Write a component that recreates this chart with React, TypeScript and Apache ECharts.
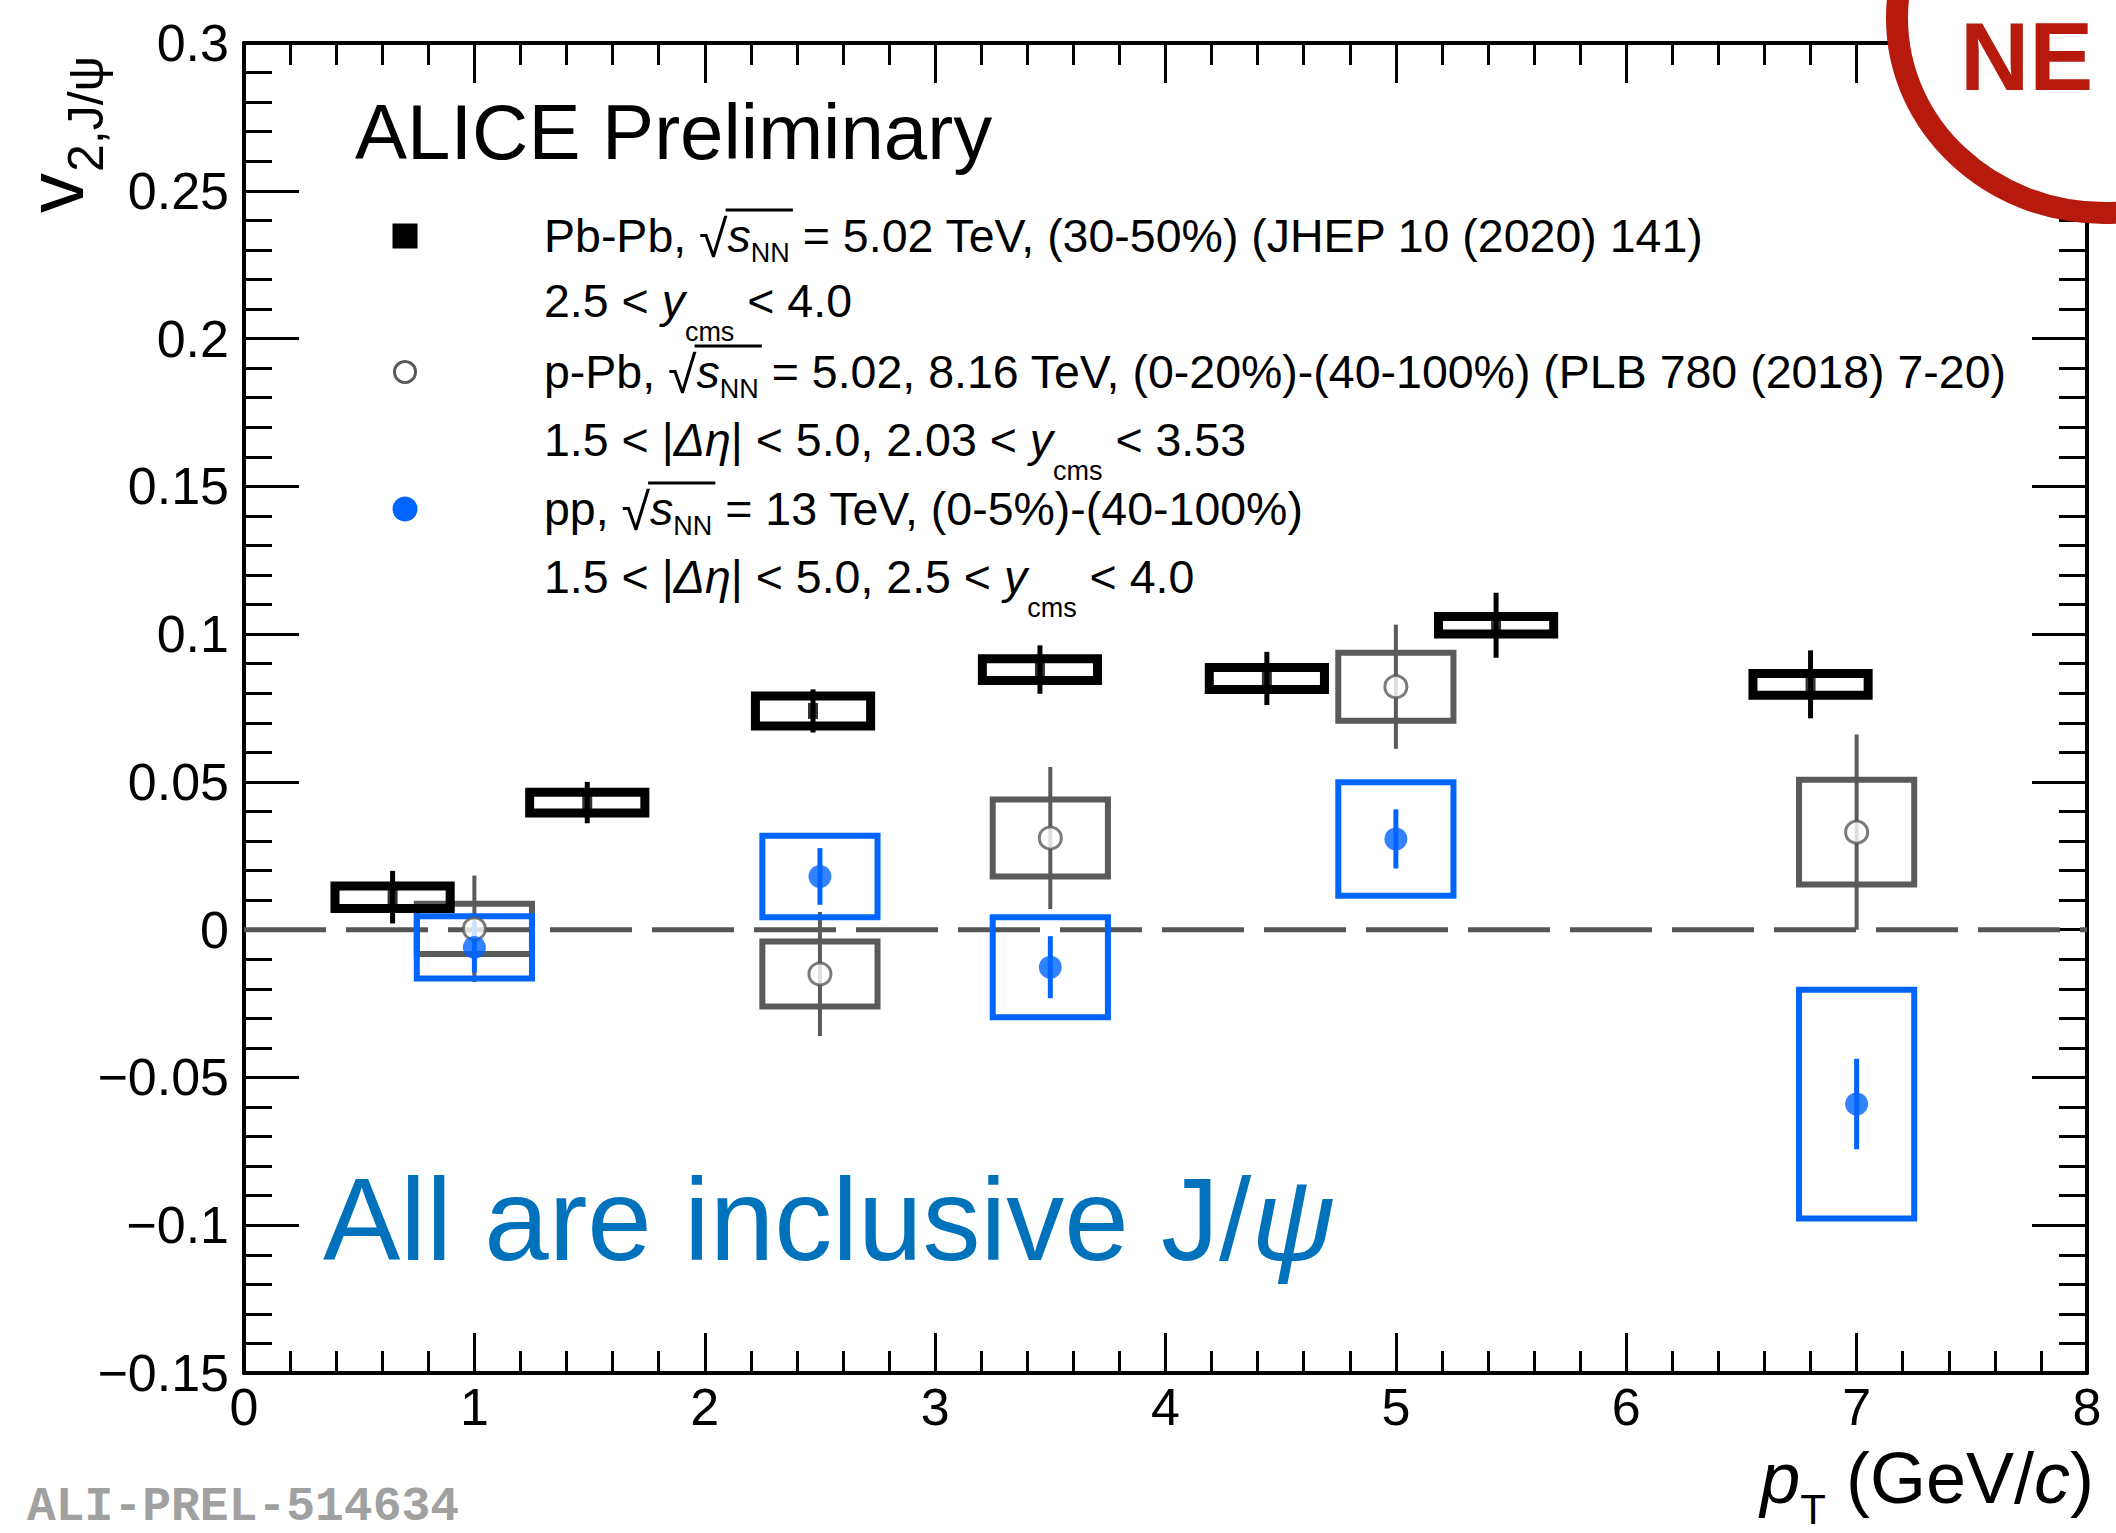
import React, { useEffect, useRef } from "react";
import * as echarts from "echarts";

const W = 2116;
const H = 1533;
const FONT = "Liberation Sans";

// ---------------- data ----------------
// Pb-Pb (30-50%), 5.02 TeV
const pbpbPt = [0.645, 1.49, 2.47, 3.455, 4.44, 5.435, 6.8];
const pbpbV = [0.011, 0.043, 0.074, 0.088, 0.085, 0.103, 0.083];
const pbpbStat = [0.0089, 0.007, 0.0073, 0.0082, 0.009, 0.011, 0.0115];
const pbpbSys = [0.0038, 0.0035, 0.0051, 0.0037, 0.0037, 0.003, 0.0037];

// p-Pb, 5.02 & 8.16 TeV
const ppbPt = [1.0, 2.5, 3.5, 5.0, 7.0];
const ppbV = [0.0003, -0.015, 0.031, 0.0822, 0.033];
const ppbStat = [0.018, 0.021, 0.024, 0.021, 0.033];
const ppbSys = [0.0085, 0.011, 0.013, 0.0115, 0.0177];

// pp, 13 TeV
const ppPt = [1.0, 2.5, 3.5, 5.0, 7.0];
const ppV = [-0.006, 0.018, -0.0127, 0.0307, -0.059];
const ppStat = [0.0085, 0.0096, 0.0105, 0.01, 0.0153];
const ppSys = [0.0105, 0.0138, 0.0169, 0.0192, 0.0387];

const boxHalfWidth = 0.25;

const xMin = 0, xMax = 8, xStep = 1;
const yMin = -0.15, yMax = 0.3, yStep = 0.05;

const zeroLine = [[0, 0], [8, 0]];

// ---------------- colours ----------------
const BLACK = "#000000";
const GRAY = "#5a5a5a";
const BLUE = "#0064ff";
const ANNOT = "#0072bc";
const RED = "#b51a0c";

// legend lines (style, text)
type Seg = [string, string];
const legendLines: Seg[][] = [
  [["n", "Pb-Pb, "], ["r", "\u221a"], ["i", "s"], ["nn", "NN"], ["n", "\u00a0= 5.02 TeV, (30-50%) (JHEP 10 (2020) 141)"]],
  [["n", "2.5 < "], ["i", "y"], ["cms", "cms"], ["n", "\u00a0< 4.0"]],
  [["n", "p-Pb, "], ["r", "\u221a"], ["i", "s"], ["nn", "NN"], ["n", "\u00a0= 5.02, 8.16 TeV, (0-20%)-(40-100%) (PLB 780 (2018) 7-20)"]],
  [["n", "1.5 < |"], ["i", "\u0394\u03b7"], ["n", "| < 5.0, 2.03 < "], ["i", "y"], ["cms", "cms"], ["n", "\u00a0< 3.53"]],
  [["n", "pp, "], ["r", "\u221a"], ["i", "s"], ["nn", "NN"], ["n", "\u00a0= 13 TeV, (0-5%)-(40-100%)"]],
  [["n", "1.5 < |"], ["i", "\u0394\u03b7"], ["n", "| < 5.0, 2.5 < "], ["i", "y"], ["cms", "cms"], ["n", "\u00a0< 4.0"]],
];
const legendCenters = [236, 301, 372, 440, 509, 577];
const legendTextX = 544;
const legendMarkerX = 405;

const LEG_FS = 46.5;
const styleDefs: Record<string, { size: number; italic: boolean; lh: number; va: string }> = {
  n: { size: LEG_FS, italic: false, lh: 50, va: "top" },
  i: { size: LEG_FS, italic: true, lh: 50, va: "top" },
  r: { size: 52, italic: false, lh: 50, va: "top" },
  nn: { size: 27, italic: false, lh: 53.5, va: "bottom" },
  cms: { size: 27, italic: false, lh: 67.5, va: "bottom" },
};

let measureCtx: CanvasRenderingContext2D | null = null;
function textWidth(text: string, size: number, italic = false, family = FONT) {
  if (!measureCtx) measureCtx = document.createElement("canvas").getContext("2d");
  const ctx = measureCtx!;
  ctx.font = `${italic ? "italic " : ""}${size}px ${family}`;
  return ctx.measureText(text).width;
}

function errorRender(color: string, boxWidth: number, barWidth: number) {
  return (params: any, api: any) => {
    const x = api.value(0);
    const y = api.value(1);
    const st = api.value(2);
    const sy = api.value(3);
    const hw = api.value(4);
    const p1 = api.coord([x - hw, y + sy]);
    const p2 = api.coord([x + hw, y - sy]);
    const s1 = api.coord([x, y + st]);
    const s2 = api.coord([x, y - st]);
    return {
      type: "group",
      children: [
        {
          type: "line",
          shape: { x1: s1[0], y1: s1[1], x2: s2[0], y2: s2[1] },
          style: { stroke: color, lineWidth: barWidth },
        },
        {
          type: "rect",
          shape: { x: p1[0], y: p1[1], width: p2[0] - p1[0], height: p2[1] - p1[1] },
          style: { fill: "none", stroke: color, lineWidth: boxWidth },
        },
      ],
    };
  };
}

function fmtY(v: number) {
  const s = parseFloat(v.toFixed(3)).toString();
  return s.replace("-", "\u2212");
}

function buildOption() {
  const axisCommon = {
    axisLine: { onZero: false, lineStyle: { color: BLACK, width: 4 } },
    splitLine: { show: false },
  };
  const xAxisBase = {
    type: "value",
    min: xMin,
    max: xMax,
    interval: xStep,
    ...axisCommon,
    axisTick: { inside: true, length: 40, lineStyle: { color: BLACK, width: 3 } },
    minorTick: { show: true, splitNumber: 5, length: 22, lineStyle: { color: BLACK, width: 3 } },
  };
  const yAxisBase = {
    type: "value",
    min: yMin,
    max: yMax,
    interval: yStep,
    ...axisCommon,
    axisTick: { inside: true, length: 55, lineStyle: { color: BLACK, width: 3 } },
    minorTick: { show: true, splitNumber: 5, length: 28, lineStyle: { color: BLACK, width: 3 } },
  };

  const mk = (pt: number[], v: number[], st: number[], sy: number[]) =>
    pt.map((p, i) => [p, v[i], st[i], sy[i], boxHalfWidth]);

  const rich: any = {};
  Object.keys(styleDefs).forEach((k) => {
    const s = styleDefs[k];
    rich[k] = {
      fontFamily: FONT,
      fontSize: s.size,
      fontStyle: s.italic ? "italic" : "normal",
      fill: BLACK,
      verticalAlign: s.va,
      lineHeight: s.lh,
    };
  });

  const graphics: any[] = [];

  // legend lines
  legendLines.forEach((line, li) => {
    const text = line.map(([s, t]) => `{${s}|${t}}`).join("");
    graphics.push({
      type: "text",
      x: legendTextX,
      y: legendCenters[li] - LEG_FS / 2,
      z: 50,
      style: { text, rich, textAlign: "left", textVerticalAlign: "top" },
    });
    // overline of the square root
    let acc = 0;
    let start = -1;
    let end = -1;
    line.forEach(([s, t]) => {
      const w = textWidth(t, styleDefs[s].size, styleDefs[s].italic);
      if (s === "r") start = acc + w - 2;
      acc += w;
      if (s === "nn") end = acc + 3;
    });
    if (start >= 0 && end > start) {
      graphics.push({
        type: "line",
        z: 50,
        shape: {
          x1: legendTextX + start,
          y1: legendCenters[li] - 26,
          x2: legendTextX + end,
          y2: legendCenters[li] - 26,
        },
        style: { stroke: BLACK, lineWidth: 3 },
      });
    }
  });

  // legend markers
  graphics.push({
    type: "rect",
    z: 50,
    shape: { x: legendMarkerX - 12.5, y: legendCenters[0] - 12.5, width: 25, height: 25 },
    style: { fill: BLACK },
  });
  graphics.push({
    type: "circle",
    z: 50,
    shape: { cx: legendMarkerX, cy: legendCenters[2], r: 10.5 },
    style: { fill: "#fff", stroke: GRAY, lineWidth: 3 },
  });
  graphics.push({
    type: "circle",
    z: 50,
    shape: { cx: legendMarkerX, cy: legendCenters[4], r: 12.5 },
    style: { fill: BLUE },
  });

  // ALICE Preliminary
  graphics.push({
    type: "text",
    x: 355,
    y: 132,
    z: 50,
    style: {
      text: "ALICE Preliminary",
      fontFamily: FONT,
      fontSize: 78,
      fill: BLACK,
      textAlign: "left",
      textVerticalAlign: "middle",
    },
  });

  // annotation
  graphics.push({
    type: "text",
    x: 323,
    y: 1220,
    z: 50,
    style: {
      text: "{a|All are inclusive J/}{b|\u03c8}",
      textAlign: "left",
      textVerticalAlign: "middle",
      rich: {
        a: { fontFamily: FONT, fontSize: 116, fill: ANNOT },
        b: { fontFamily: FONT, fontSize: 116, fill: ANNOT, fontStyle: "italic" },
      },
    },
  });

  // ALI-PREL label
  graphics.push({
    type: "text",
    x: 27,
    y: 1507,
    z: 50,
    style: {
      text: "ALI-PREL-514634",
      fontFamily: "Liberation Mono",
      fontWeight: "bold",
      fontSize: 48,
      fill: "#a0a0a0",
      textAlign: "left",
      textVerticalAlign: "middle",
    },
  });

  // x-axis title
  graphics.push({
    type: "text",
    x: 2094,
    y: 1442,
    z: 50,
    style: {
      text: "{i|p}{t|T}{n|\u00a0(GeV/}{i|c}{n|)}",
      textAlign: "right",
      textVerticalAlign: "top",
      rich: {
        i: { fontFamily: FONT, fontSize: 72, fontStyle: "italic", fill: BLACK, lineHeight: 76, verticalAlign: "top" },
        n: { fontFamily: FONT, fontSize: 72, fill: BLACK, lineHeight: 76, verticalAlign: "top" },
        t: { fontFamily: FONT, fontSize: 42, fill: BLACK, lineHeight: 88, verticalAlign: "bottom" },
      },
    },
  });

  // y-axis title (rotated)
  graphics.push({
    type: "text",
    x: 55,
    y: 213,
    rotation: Math.PI / 2,
    z: 50,
    style: {
      text: "v",
      fontFamily: FONT,
      fontSize: 80,
      fill: BLACK,
      textAlign: "left",
      textVerticalAlign: "middle",
    },
  });
  graphics.push({
    type: "text",
    x: 86,
    y: 172,
    rotation: Math.PI / 2,
    z: 50,
    style: {
      text: "2,J/\u03c8",
      fontFamily: FONT,
      fontSize: 50,
      fill: BLACK,
      textAlign: "left",
      textVerticalAlign: "middle",
    },
  });

  // NEW stamp (cropped at the page corner, as in the reference)
  graphics.push({
    type: "ellipse",
    z: 100,
    shape: { cx: 2105, cy: 18, rx: 208, ry: 195 },
    style: { fill: "#ffffff", stroke: RED, lineWidth: 22 },
  });
  graphics.push({
    type: "text",
    x: 1960,
    y: 56,
    z: 101,
    style: {
      text: "NE",
      fontFamily: FONT,
      fontWeight: "bold",
      fontSize: 96,
      fill: RED,
      textAlign: "left",
      textVerticalAlign: "middle",
    },
  });

  return {
    animation: false,
    backgroundColor: "#ffffff",
    grid: { left: 244, right: 29, top: 43, bottom: 160, containLabel: false },
    xAxis: [
      {
        ...xAxisBase,
        position: "bottom",
        axisLabel: {
          margin: 12,
          lineHeight: 44,
          fontFamily: FONT,
          fontSize: 52,
          color: BLACK,
          formatter: (v: number) => String(Math.round(v)),
        },
      },
      { ...xAxisBase, position: "top", axisLabel: { show: false } },
    ],
    yAxis: [
      {
        ...yAxisBase,
        position: "left",
        axisLabel: { margin: 15, fontFamily: FONT, fontSize: 52, color: BLACK, formatter: fmtY },
      },
      { ...yAxisBase, position: "right", axisLabel: { show: false } },
    ],
    series: [
      {
        type: "line",
        data: zeroLine,
        symbol: "none",
        silent: true,
        z: 1,
        lineStyle: { color: "#555555", width: 5, type: [82, 20] },
      },
      {
        type: "custom",
        name: "p-Pb",
        renderItem: errorRender(GRAY, 6, 4),
        data: mk(ppbPt, ppbV, ppbStat, ppbSys),
        encode: { x: 0, y: 1 },
        z: 2,
        silent: true,
      },
      {
        type: "custom",
        name: "pp",
        renderItem: errorRender(BLUE, 6, 5),
        data: mk(ppPt, ppV, ppStat, ppSys),
        encode: { x: 0, y: 1 },
        z: 3,
        silent: true,
      },
      {
        type: "custom",
        name: "Pb-Pb",
        renderItem: errorRender(BLACK, 9, 5),
        data: mk(pbpbPt, pbpbV, pbpbStat, pbpbSys),
        encode: { x: 0, y: 1 },
        z: 4,
        silent: true,
      },
      {
        type: "scatter",
        name: "p-Pb markers",
        data: ppbPt.map((p, i) => [p, ppbV[i]]),
        symbol: "circle",
        symbolSize: 22,
        itemStyle: { color: "#ffffff", borderColor: GRAY, borderWidth: 3 },
        z: 6,
        silent: true,
      },
      {
        type: "scatter",
        name: "pp markers",
        data: ppPt.map((p, i) => [p, ppV[i]]),
        symbol: "circle",
        symbolSize: 23,
        itemStyle: { color: BLUE },
        z: 6,
        silent: true,
      },
      {
        type: "scatter",
        name: "Pb-Pb markers",
        data: pbpbPt.map((p, i) => [p, pbpbV[i]]),
        symbol: "rect",
        symbolSize: [10, 16],
        itemStyle: { color: BLACK },
        z: 6,
        silent: true,
      },
    ],
    graphic: { elements: graphics },
  };
}

export default function App() {
  const ref = useRef<HTMLDivElement>(null);
  useEffect(() => {
    if (!ref.current) return;
    const chart = echarts.init(ref.current, null, { renderer: "svg" });
    chart.setOption(buildOption() as any);
    return () => chart.dispose();
  }, []);
  return (
    <div
      ref={ref}
      style={{ position: "fixed", left: 0, top: 0, width: W, height: H, background: "#ffffff" }}
    />
  );
}
